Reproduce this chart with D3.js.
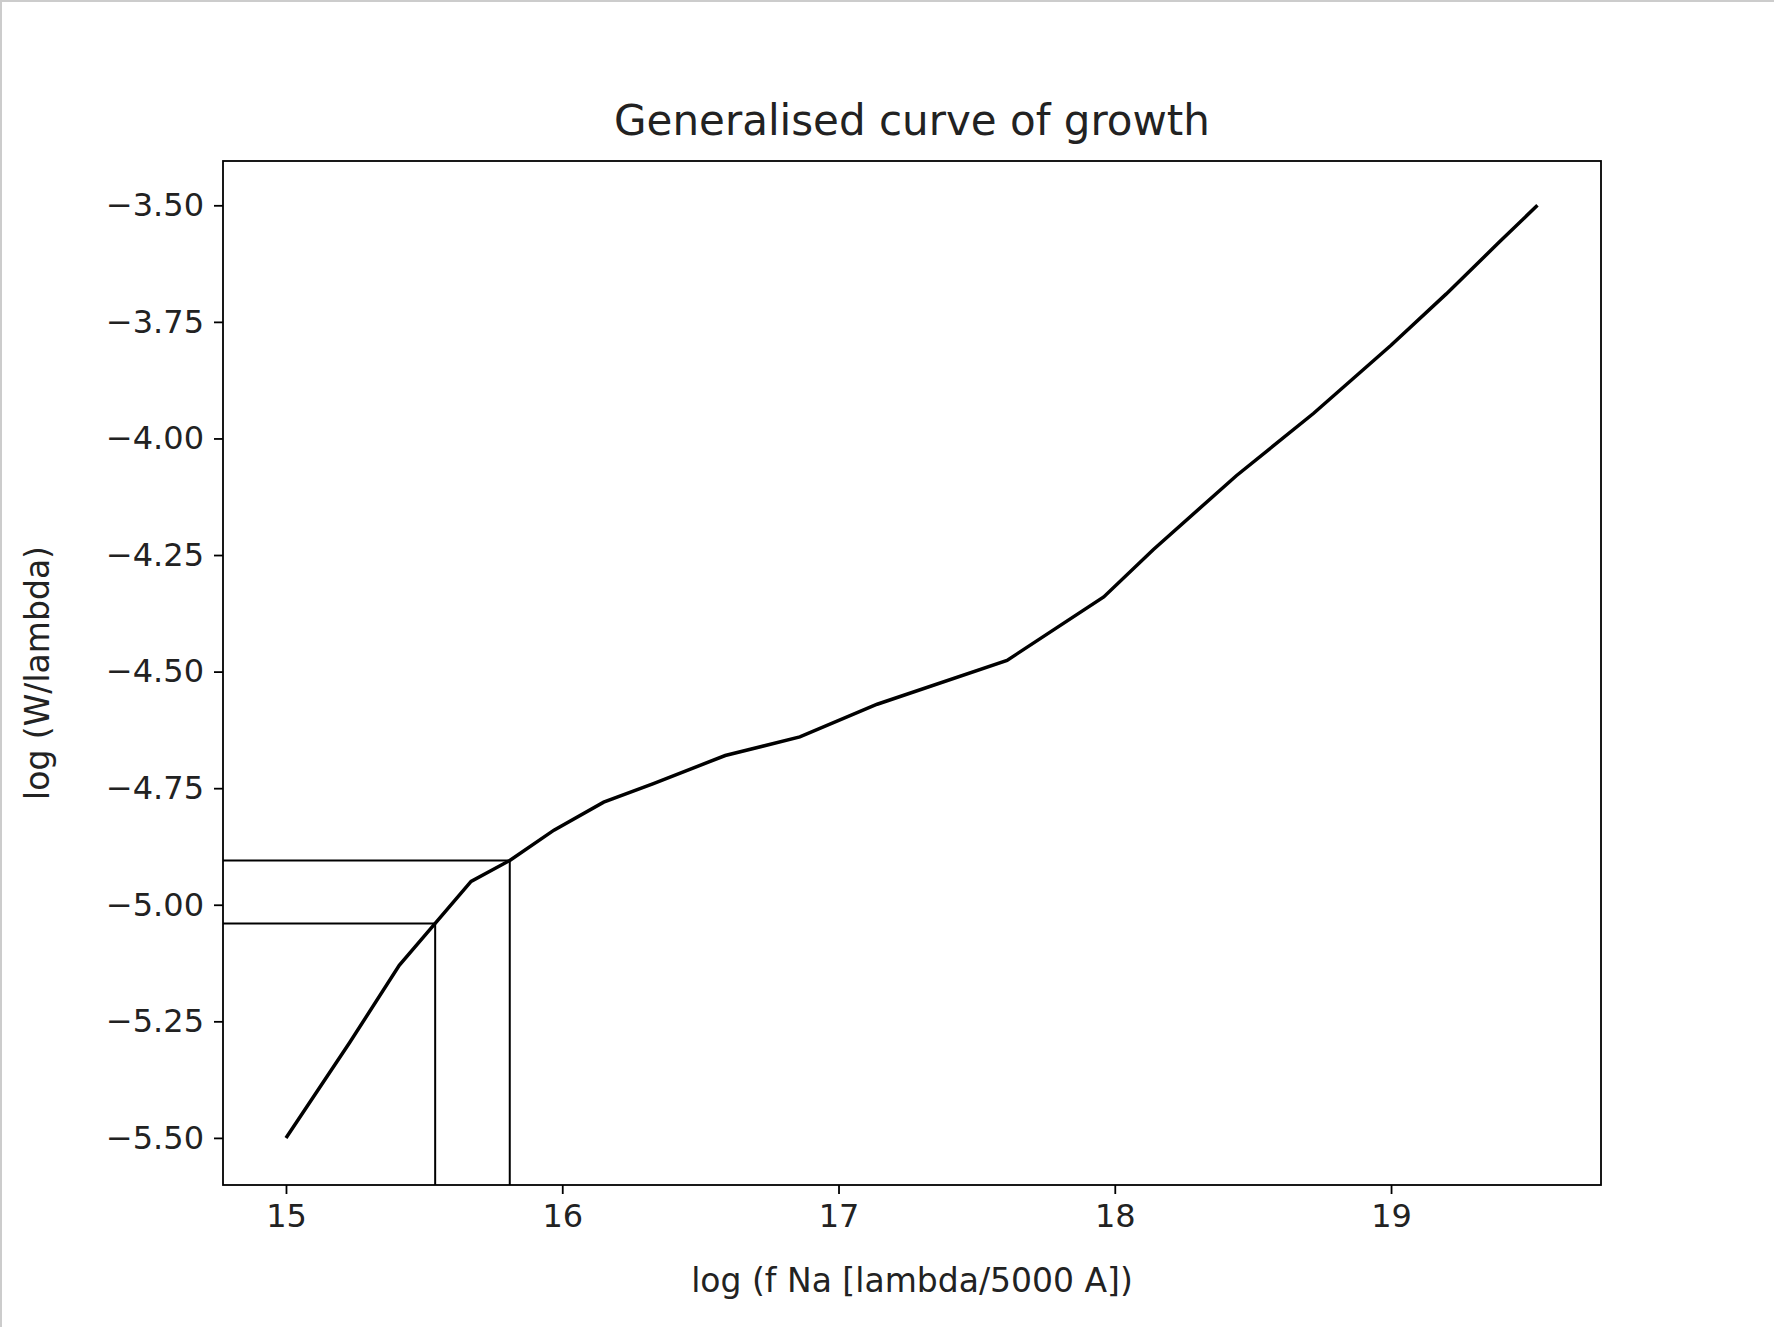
<!DOCTYPE html>
<html><head><meta charset="utf-8">
<script src="https://cdn.jsdelivr.net/npm/d3@7"></script>
<style>body{margin:0;background:#fff}text{font-family:"DejaVu Sans",sans-serif;fill:#222}</style>
</head><body><div id="chart"></div>
<script>
const logN = [15.0, 15.23, 15.41, 15.54, 15.67, 15.81, 15.97, 16.15, 16.33, 16.59, 16.86, 17.14, 17.61, 17.96, 18.14, 18.44, 18.72, 19.0, 19.2, 19.39, 19.53];
const logW = [-5.5, -5.296, -5.13, -5.04, -4.95, -4.905, -4.84, -4.78, -4.74, -4.68, -4.64, -4.57, -4.476, -4.34, -4.238, -4.08, -3.946, -3.8, -3.69, -3.58, -3.5];
const guides = [{x: 15.54, y: -5.04}, {x: 15.81, y: -4.905}];
const xTicks = [15, 16, 17, 18, 19];
const yTicks = [-3.5, -3.75, -4.0, -4.25, -4.5, -4.75, -5.0, -5.25, -5.5];

const margin = {top: 161, right: 173, bottom: 142, left: 223},
  W = 1774, H = 1327,
  width = W - margin.left - margin.right,
  height = H - margin.top - margin.bottom;

const root = d3.select("#chart").append("svg").attr("width", W).attr("height", H);
root.append("path").attr("d", "M1,1327V1H1774").attr("fill", "none").attr("stroke", "#ccc").attr("stroke-width", 2);
const svg = root.append("g").attr("transform", "translate(" + margin.left + "," + margin.top + ")");

const x = d3.scaleLinear().domain([14.772, 19.76]).range([0, width]);
const y = d3.scaleLinear().domain([-5.601, -3.405]).range([height, 0]);

const fmt = d => d3.format(".2f")(d).replace("-", "\u2212");

const xa = svg.append("g").attr("transform", "translate(0," + height + ")")
  .call(d3.axisBottom(x).tickValues(xTicks).tickSize(9).tickPadding(10).tickFormat(d3.format("d")));
const ya = svg.append("g")
  .call(d3.axisLeft(y).tickValues(yTicks).tickSize(9).tickPadding(10).tickFormat(fmt));
[xa, ya].forEach(a => {
  a.select(".domain").remove();
  a.selectAll("line").attr("stroke", "#000").attr("stroke-width", 1.8);
  a.selectAll("text").style("font-size", "32px").attr("fill", "#222");
});

// guide lines
guides.forEach(g => {
  svg.append("path").attr("fill", "none").attr("stroke", "#000").attr("stroke-width", 2)
    .attr("d", "M0," + y(g.y) + "H" + x(g.x) + "V" + height);
});

svg.append("path").datum(logN.map((d, i) => [d, logW[i]]))
  .attr("fill", "none").attr("stroke", "#000").attr("stroke-width", 3.5)
  .attr("d", d3.line().x(d => x(d[0])).y(d => y(d[1])));

svg.append("rect").attr("width", width).attr("height", height)
  .attr("fill", "none").attr("stroke", "#000").attr("stroke-width", 1.8);

svg.append("text").attr("x", width / 2).attr("y", -26).attr("text-anchor", "middle")
  .style("font-size", "42px").text("Generalised curve of growth");
svg.append("text").attr("x", width / 2).attr("y", height + 107).attr("text-anchor", "middle")
  .style("font-size", "33px").text("log (f Na [lambda/5000 A])");
svg.append("text").attr("transform", "translate(-174," + height / 2 + ") rotate(-90)")
  .attr("text-anchor", "middle").style("font-size", "33px").text("log (W/lambda)");
</script></body></html>
